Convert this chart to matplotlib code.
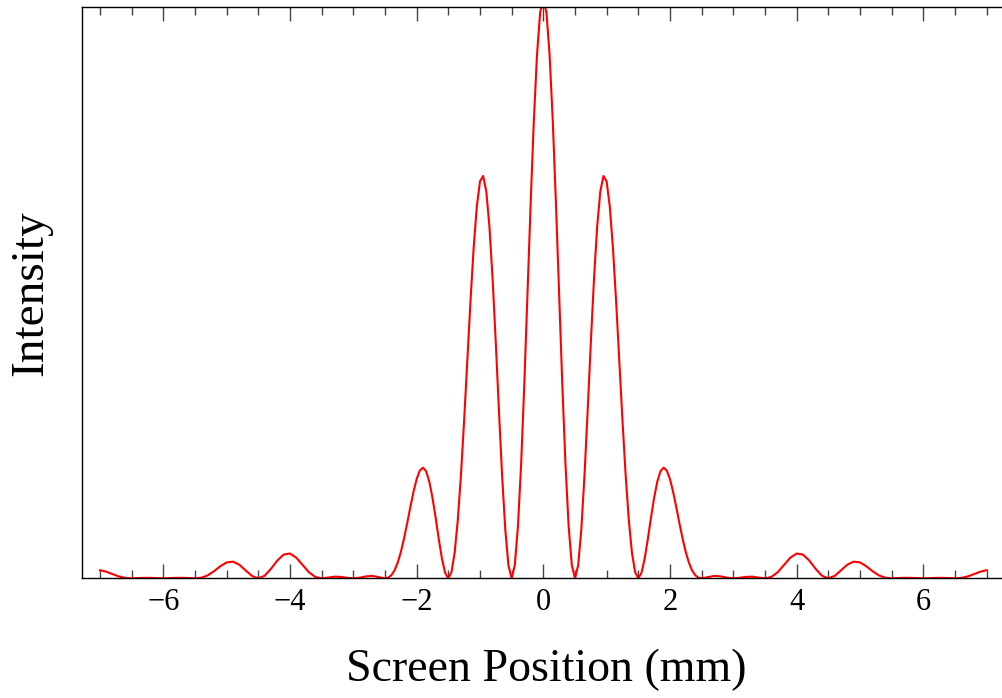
import matplotlib
matplotlib.use("Agg")
import matplotlib.pyplot as plt
from matplotlib.ticker import MultipleLocator, FixedLocator

# Screen position samples (mm)
x_mm = [
    -7.0, -6.9, -6.8, -6.7, -6.6, -6.5, -6.4, -6.3, -6.2, -6.1,
    -6.0, -5.9, -5.8, -5.7, -5.6, -5.5, -5.4, -5.3, -5.2, -5.1,
    -5.0, -4.9, -4.8, -4.7, -4.6, -4.5, -4.4, -4.3, -4.2, -4.1,
    -4.0, -3.9, -3.8, -3.7, -3.6, -3.5, -3.4, -3.3, -3.2, -3.1,
    -3.0, -2.9, -2.8, -2.7, -2.6,
    -2.5, -2.45, -2.4, -2.35, -2.3, -2.25, -2.2, -2.15, -2.1, -2.05,
    -2.0, -1.95, -1.9, -1.85, -1.8, -1.75, -1.7, -1.65, -1.6, -1.55,
    -1.5, -1.45, -1.4, -1.35, -1.3, -1.25, -1.2, -1.15, -1.1, -1.05,
    -1.0, -0.95, -0.9, -0.85, -0.8, -0.75, -0.7, -0.65, -0.6, -0.55,
    -0.5, -0.45, -0.4, -0.35, -0.3, -0.25, -0.2, -0.15, -0.1, -0.05,
    0.0,
    0.05, 0.1, 0.15, 0.2, 0.25, 0.3, 0.35, 0.4, 0.45, 0.5,
    0.55, 0.6, 0.65, 0.7, 0.75, 0.8, 0.85, 0.9, 0.95, 1.0,
    1.05, 1.1, 1.15, 1.2, 1.25, 1.3, 1.35, 1.4, 1.45, 1.5,
    1.55, 1.6, 1.65, 1.7, 1.75, 1.8, 1.85, 1.9, 1.95, 2.0,
    2.05, 2.1, 2.15, 2.2, 2.25, 2.3, 2.35, 2.4, 2.45, 2.5,
    2.6, 2.7, 2.8, 2.9, 3.0,
    3.1, 3.2, 3.3, 3.4, 3.5, 3.6, 3.7, 3.8, 3.9, 4.0,
    4.1, 4.2, 4.3, 4.4, 4.5, 4.6, 4.7, 4.8, 4.9, 5.0,
    5.1, 5.2, 5.3, 5.4, 5.5, 5.6, 5.7, 5.8, 5.9, 6.0,
    6.1, 6.2, 6.3, 6.4, 6.5, 6.6, 6.7, 6.8, 6.9, 7.0,
]

# Intensity (relative units)
intensity = [
    0.0140, 0.0113, 0.0071, 0.0031, 0.0007, 0.0000, 0.0004, 0.0008, 0.0007, 0.0002,
    0.0000, 0.0003, 0.0008, 0.0009, 0.0005, 0.0000, 0.0010, 0.0050, 0.0122, 0.0208,
    0.0274, 0.0287, 0.0234, 0.0136, 0.0041, 0.0000, 0.0044, 0.0163, 0.0306, 0.0409,
    0.0427, 0.0355, 0.0228, 0.0103, 0.0023, 0.0000, 0.0012, 0.0028, 0.0025, 0.0009,
    0.0000, 0.0011, 0.0033, 0.0041, 0.0021,
    0.0000, 0.0011, 0.0052, 0.0135, 0.0267, 0.0450, 0.0681, 0.0946, 0.1224, 0.1489,
    0.1710, 0.1857, 0.1907, 0.1844, 0.1666, 0.1389, 0.1043, 0.0673, 0.0336, 0.0093,
    0.0000, 0.0106, 0.0439, 0.1006, 0.1784, 0.2723, 0.3749, 0.4771, 0.5689, 0.6406,
    0.6839, 0.6933, 0.6665, 0.6052, 0.5150, 0.4053, 0.2879, 0.1762, 0.0836, 0.0219,
    0.0000, 0.0227, 0.0900, 0.1970, 0.3343, 0.4887, 0.6450, 0.7874, 0.9012, 0.9746,
    1.0000,
    0.9746, 0.9012, 0.7874, 0.6450, 0.4887, 0.3343, 0.1970, 0.0900, 0.0227, 0.0000,
    0.0219, 0.0836, 0.1762, 0.2879, 0.4053, 0.5150, 0.6052, 0.6665, 0.6933, 0.6839,
    0.6406, 0.5689, 0.4771, 0.3749, 0.2723, 0.1784, 0.1006, 0.0439, 0.0106, 0.0000,
    0.0093, 0.0336, 0.0673, 0.1043, 0.1389, 0.1666, 0.1844, 0.1907, 0.1857, 0.1710,
    0.1489, 0.1224, 0.0946, 0.0681, 0.0450, 0.0267, 0.0135, 0.0052, 0.0011, 0.0000,
    0.0021, 0.0041, 0.0033, 0.0011, 0.0000,
    0.0009, 0.0025, 0.0028, 0.0012, 0.0000, 0.0023, 0.0103, 0.0228, 0.0355, 0.0427,
    0.0409, 0.0306, 0.0163, 0.0044, 0.0000, 0.0041, 0.0136, 0.0234, 0.0287, 0.0274,
    0.0208, 0.0122, 0.0050, 0.0010, 0.0000, 0.0005, 0.0009, 0.0008, 0.0003, 0.0000,
    0.0002, 0.0007, 0.0008, 0.0004, 0.0000, 0.0007, 0.0031, 0.0071, 0.0113, 0.0140,
]

major_ticks = [-6, -4, -2, 0, 2, 4, 6]
tick_labels = ["\u22126", "\u22124", "\u22122", "0", "2", "4", "6"]

plt.rcParams["font.family"] = ["Liberation Serif", "DejaVu Serif"]

W, H = 1002, 698
fig = plt.figure(figsize=(W / 100, H / 100), dpi=100)
px_per_unit = 63.33
zero_px = 543.3
left_px, right_px, top_px, bottom_px = 81.7, 1010.0, 7.3, 578.3
ax = fig.add_axes([left_px / W, 1 - bottom_px / H,
                   (right_px - left_px) / W, (bottom_px - top_px) / H])

ax.plot(x_mm, intensity, color="#ff0000", lw=1.5, solid_joinstyle="round")

ax.set_xlim((left_px - zero_px) / px_per_unit, (right_px - zero_px) / px_per_unit)
ax.set_ylim(0, 0.984)

ax.xaxis.set_major_locator(FixedLocator(major_ticks))
ax.set_xticklabels(tick_labels)
ax.xaxis.set_minor_locator(MultipleLocator(0.5))
ax.tick_params(axis="x", which="both", direction="in", top=True, bottom=True,
               color="#444444", width=1.0)
ax.tick_params(axis="x", which="major", length=10, labelsize=22, pad=7)
ax.tick_params(axis="x", which="minor", length=6)
ax.set_yticks([])

for s in ax.spines.values():
    s.set_linewidth(1.0)
    s.set_color("black")

ax.set_xlabel("Screen Position (mm)", fontsize=33, labelpad=23)
ax.set_ylabel("Intensity", fontsize=34, labelpad=21)

fig.savefig("out.png", dpi=100)
